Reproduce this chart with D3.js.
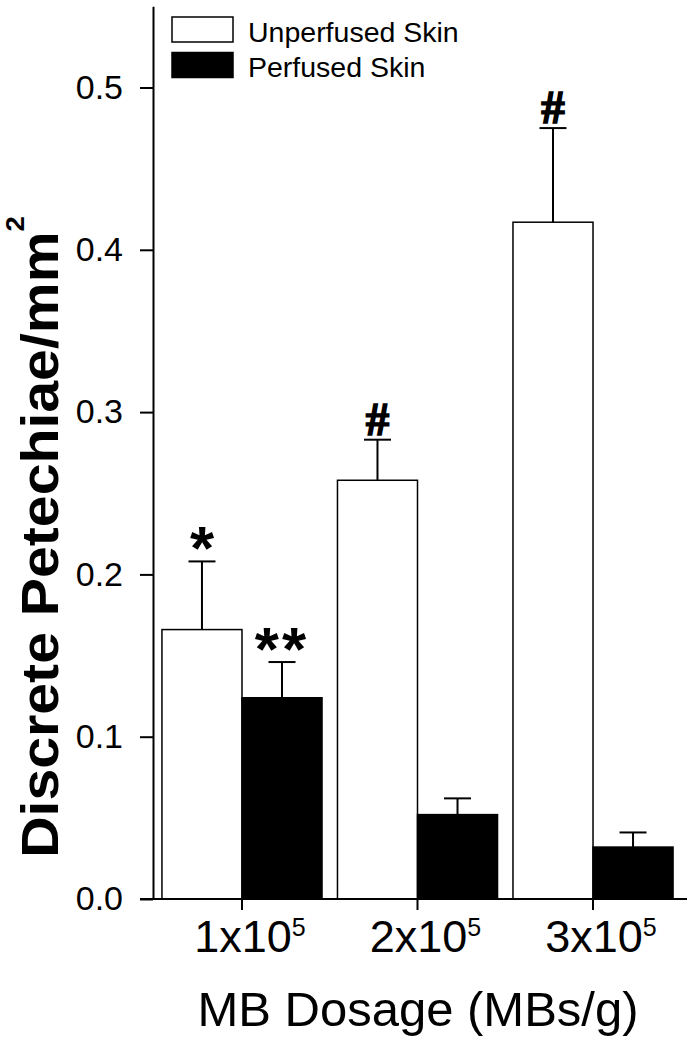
<!DOCTYPE html>
<html>
<head>
<meta charset="utf-8">
<script src="https://cdn.jsdelivr.net/npm/d3@7"></script>
<style>
  html, body { margin: 0; padding: 0; background: #fff; }
  svg { display: block; font-family: "Liberation Sans", Arial, Helvetica, sans-serif; }
</style>
</head>
<body>
<svg id="chart" width="692" height="1050"></svg>
<script>
// values
const dosages = ["1x10", "2x10", "3x10"];
const dosageExp = ["5", "5", "5"];
const series = ["Unperfused Skin", "Perfused Skin"];
const unperfusedMean = [0.166, 0.258, 0.417];
const unperfusedSem = [0.042, 0.025, 0.058];
const perfusedMean = [0.124, 0.052, 0.032];
const perfusedSem = [0.022, 0.010, 0.009];
const unperfusedMarks = ["*", "#", "#"];
const perfusedMarks = ["**", "", ""];
const yTicks = [0, 0.1, 0.2, 0.3, 0.4, 0.5];

const svg = d3.select("#chart");
const fills = ["#fff", "#000"];

const y = d3.scaleLinear().domain([0, 0.55]).range([899, 899 - 0.55 * 1623]);
const x0 = d3.scaleBand().domain(dosages).range([153, 682])
  .paddingInner(0.088).paddingOuter(0.051);
const x1 = d3.scaleBand().domain(series).range([0, x0.bandwidth()]);

const rows = [];
dosages.forEach((d, i) => {
  rows.push({ dose: d, s: series[0], v: unperfusedMean[i], e: unperfusedSem[i], mark: unperfusedMarks[i] });
  rows.push({ dose: d, s: series[1], v: perfusedMean[i], e: perfusedSem[i], mark: perfusedMarks[i] });
});

// bars
svg.append("g").selectAll("rect").data(rows).join("rect")
  .attr("x", d => x0(d.dose) + x1(d.s))
  .attr("y", d => y(d.v))
  .attr("width", x1.bandwidth())
  .attr("height", d => y(0) - y(d.v))
  .attr("fill", d => fills[series.indexOf(d.s)])
  .attr("stroke", "#000").attr("stroke-width", 1.5);

// error bars (upper only)
const eb = svg.append("g").attr("stroke", "#000").attr("stroke-width", 2);
const cx = d => x0(d.dose) + x1(d.s) + x1.bandwidth() / 2;
eb.selectAll("line.v").data(rows).join("line").attr("class", "v")
  .attr("x1", cx).attr("x2", cx)
  .attr("y1", d => y(d.v)).attr("y2", d => y(d.v + d.e));
eb.selectAll("line.c").data(rows).join("line").attr("class", "c")
  .attr("x1", d => cx(d) - 13.5).attr("x2", d => cx(d) + 13.5)
  .attr("y1", d => y(d.v + d.e)).attr("y2", d => y(d.v + d.e));

// significance marks
const marks = svg.append("g").selectAll("text").data(rows.filter(d => d.mark)).join("text")
  .attr("x", cx)
  .attr("text-anchor", "middle")
  .attr("font-weight", "bold")
  .attr("fill", "#000")
  .text(d => d.mark);
marks.filter(d => d.mark === "#")
  .attr("y", d => y(d.v + d.e) - 5)
  .attr("font-family", "'Liberation Serif', 'Times New Roman', serif")
  .attr("font-size", 47)
  .attr("stroke", "#000").attr("stroke-width", 1.6);
marks.filter(d => d.mark !== "#")
  .attr("y", d => y(d.v + d.e) + 8)
  .attr("font-size", 62)
  .attr("letter-spacing", d => d.mark === "**" ? 3 : null);

// y axis
const yAxis = svg.append("g").attr("transform", "translate(153,0)")
  .call(d3.axisLeft(y).tickValues(yTicks).tickFormat(d3.format(".1f"))
    .tickSize(13).tickSizeOuter(0).tickPadding(17));
yAxis.selectAll("path, line").attr("stroke", "#000").attr("stroke-width", 2);
yAxis.selectAll("text").attr("font-size", 34).attr("fill", "#000")
  .attr("font-family", "'Liberation Sans', Arial, sans-serif");

// x axis
const xAxis = svg.append("g").attr("transform", "translate(0,899)")
  .call(d3.axisBottom(x0).tickSize(11).tickSizeOuter(0));
xAxis.select(".domain").remove();
xAxis.selectAll("line").attr("stroke", "#000").attr("stroke-width", 2);
xAxis.selectAll("text").each(function (d, i) {
  const t = d3.select(this).text(null)
    .attr("y", 53).attr("dy", null).attr("dx", 8)
    .attr("font-size", 45).attr("fill", "#000")
    .attr("font-family", "'Liberation Sans', Arial, sans-serif");
  t.append("tspan").text(d);
  t.append("tspan").attr("dy", -16).attr("font-size", 25).text(dosageExp[i]);
});
svg.append("line")
  .attr("x1", 140).attr("x2", 687).attr("y1", y(0)).attr("y2", y(0))
  .attr("stroke", "#000").attr("stroke-width", 2);

// axis titles
svg.append("text")
  .attr("x", 418).attr("y", 1026)
  .attr("text-anchor", "middle").attr("font-size", 49)
  .text("MB Dosage (MBs/g)");

const yt = svg.append("text")
  .attr("transform", "translate(58,537) rotate(-90) scale(1.1,1)")
  .attr("text-anchor", "middle").attr("font-size", 52).attr("font-weight", "bold");
yt.append("tspan").text("Discrete Petechiae/mm");
yt.append("tspan").attr("dy", -34).attr("font-size", 25).text("2");

// legend
const legend = svg.append("g").attr("transform", "translate(172,17)");
const li = legend.selectAll("g").data(series).join("g")
  .attr("transform", (d, i) => `translate(0,${i * 35.5})`);
li.append("rect").attr("width", 61).attr("height", 25)
  .attr("fill", (d, i) => fills[i]).attr("stroke", "#000").attr("stroke-width", 1.5);
li.append("text").attr("x", 76).attr("y", 24.5).attr("font-size", 28.5).text(d => d);
</script>
</body>
</html>
